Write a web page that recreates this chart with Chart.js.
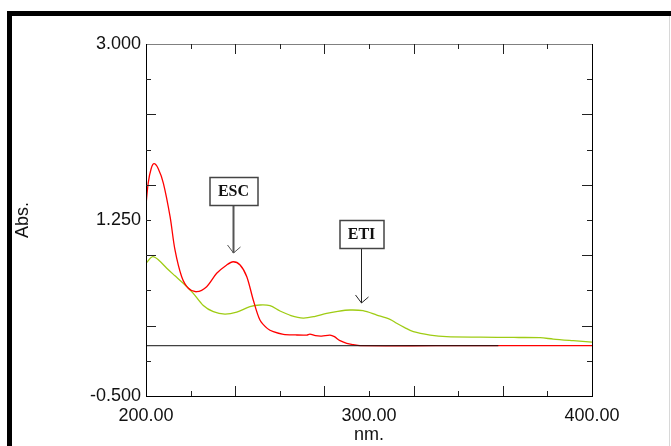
<!DOCTYPE html>
<html>
<head>
<meta charset="utf-8">
<title>Abs. spectrum</title>
<script src="https://cdn.jsdelivr.net/npm/chart.js"></script>
<style>
  html, body { margin: 0; padding: 0; background: #fff; }
  #wrap { width: 671px; height: 446px; position: relative; }
</style>
</head>
<body>
<div id="wrap"><canvas id="spectrum" width="671" height="446"></canvas></div>
<script>
// ESC (red) spectrum
const escWavelength = [200, 201, 202.3, 203.6, 205.5, 207.8, 210.8, 213.0, 216.0, 219.0, 222.7, 227.2, 231.7, 236.2, 239.1, 242.2, 245.2, 248.1, 251.1, 254.5, 257.1, 261.6, 267, 272.1, 273.5, 276, 278.8, 282.5, 284.5, 287.0, 290.0, 293, 296, 330, 400];
const escAbs = [1.40, 1.62, 1.76, 1.81, 1.76, 1.615, 1.283, 0.952, 0.686, 0.571, 0.537, 0.587, 0.720, 0.803, 0.835, 0.803, 0.686, 0.455, 0.256, 0.170, 0.139, 0.113, 0.107, 0.106, 0.116, 0.100, 0.096, 0.106, 0.090, 0.050, 0.024, 0.010, 0.0, 0.0, 0.0];

// ETI (green) spectrum
const etiWavelength = [200, 203.0, 206, 209.3, 213, 216.7, 221.2, 225.7, 230.2, 235.4, 240.7, 246.6, 251.1, 255.6, 260.1, 265, 270.5, 275.5, 281.0, 286, 291.5, 297.3, 303.5, 309.4, 312.4, 316, 319.9, 327.4, 334.8, 350, 365, 376.7, 382.6, 391.6, 400];
const etiAbs = [0.820, 0.885, 0.845, 0.770, 0.695, 0.621, 0.521, 0.400, 0.338, 0.315, 0.335, 0.388, 0.405, 0.398, 0.345, 0.300, 0.275, 0.290, 0.322, 0.342, 0.355, 0.348, 0.305, 0.262, 0.223, 0.180, 0.139, 0.106, 0.090, 0.085, 0.082, 0.080, 0.066, 0.050, 0.036];

// zero baseline
const baseWavelength = [200, 358];
const baseAbs = [0, 0];

// axis ticks and labels
const xTicks = [200, 220, 240, 260, 280, 300, 320, 340, 360, 380, 400];
const xLabels = [200, 300, 400];
const yTicks = [-0.5, -0.15, 0.2, 0.55, 0.9, 1.25, 1.6, 1.95, 2.3, 2.65, 3.0];
const yLabels = [-0.5, 1.25, 3.0];

// peak annotations
const peakNames = ['ESC', 'ETI'];
const peakWavelength = [238.8, 296.4];
const peakTipAbs = [0.922, 0.425];
const peakBoxTopAbs = [1.678, 1.25];

function toPoints(xs, ys) {
  return xs.map((x, i) => ({ x: x, y: ys[i] }));
}

const frameAndTicks = {
  id: 'frameAndTicks',
  afterDraw(chart) {
    const ctx = chart.ctx;
    const a = chart.chartArea;
    const xs = chart.scales.x, ys = chart.scales.y;
    ctx.save();
    // outer black border of the window
    ctx.fillStyle = '#000';
    ctx.fillRect(7, 11, 664, 5);
    ctx.fillRect(7, 11, 5, 435);
    ctx.fillStyle = '#d8d8d8';
    ctx.fillRect(669, 16, 1, 430);

    // plot frame
    ctx.lineWidth = 1;
    ctx.strokeStyle = '#808080';
    ctx.beginPath();
    ctx.moveTo(a.left, a.top + 0.5); ctx.lineTo(a.right, a.top + 0.5);
    ctx.stroke();
    ctx.strokeStyle = '#000';
    ctx.beginPath();
    ctx.moveTo(a.left + 0.5, a.top); ctx.lineTo(a.left + 0.5, a.bottom);
    ctx.moveTo(a.right + 0.5, a.top); ctx.lineTo(a.right + 0.5, a.bottom);
    ctx.moveTo(a.left, a.bottom + 0.5); ctx.lineTo(a.right + 1, a.bottom + 0.5);
    ctx.stroke();

    // inward tick marks
    ctx.strokeStyle = '#222';
    ctx.beginPath();
    xTicks.forEach((v, i) => {
      if (i === 0 || i === xTicks.length - 1) return;
      const len = i % 2 === 0 ? 10 : 5;
      const px = Math.round(xs.getPixelForValue(v)) + 0.5;
      ctx.moveTo(px, a.bottom); ctx.lineTo(px, a.bottom - len);
      ctx.moveTo(px, a.top); ctx.lineTo(px, a.top + len);
    });
    yTicks.forEach((v, i) => {
      if (i === 0 || i === yTicks.length - 1) return;
      const len = (yTicks.length - 1 - i) % 2 === 0 ? 10 : 5;
      const py = Math.round(ys.getPixelForValue(v)) + 0.5;
      ctx.moveTo(a.left, py); ctx.lineTo(a.left + len, py);
      ctx.moveTo(a.right, py); ctx.lineTo(a.right - len, py);
    });
    ctx.stroke();

    // peak labels with arrows
    ctx.font = 'bold 16px "Liberation Serif", serif';
    ctx.textAlign = 'center';
    ctx.textBaseline = 'middle';
    peakNames.forEach((name, i) => {
      const px = Math.round(xs.getPixelForValue(peakWavelength[i])) + 0.5;
      const tip = ys.getPixelForValue(peakTipAbs[i]);
      const top = ys.getPixelForValue(peakBoxTopAbs[i]);
      const w = Math.ceil(ctx.measureText(name).width) + 16;
      const h = 28;
      ctx.strokeStyle = i === 0 ? '#555' : '#222';
      ctx.lineWidth = i === 0 ? 2 : 1;
      ctx.beginPath();
      ctx.moveTo(px, top + h); ctx.lineTo(px, tip);
      ctx.stroke();
      ctx.lineWidth = 1;
      ctx.beginPath();
      ctx.moveTo(px - 6, tip - 8); ctx.lineTo(px, tip); ctx.lineTo(px + 7, tip - 6);
      ctx.stroke();
      ctx.fillStyle = '#fff';
      ctx.fillRect(px - w / 2, top, w, h);
      ctx.strokeStyle = '#444';
      ctx.lineWidth = 1.5;
      ctx.strokeRect(Math.round(px - w / 2), Math.round(top) + 0.5, w, h);
      ctx.fillStyle = '#111';
      ctx.fillText(name, px, top + h / 2 + 1);
    });
    ctx.restore();
  }
};

const labelFont = { family: '"Liberation Sans", Arial, sans-serif', size: 18 };

new Chart(document.getElementById('spectrum'), {
  type: 'line',
  data: {
    datasets: [
      {
        label: 'baseline',
        data: toPoints(baseWavelength, baseAbs),
        borderColor: '#111',
        borderWidth: 1,
        pointRadius: 0,
        tension: 0
      },
      {
        label: 'ESC',
        data: toPoints(escWavelength, escAbs),
        borderColor: '#ff0000',
        borderWidth: 1.3,
        pointRadius: 0,
        tension: 0.3
      },
      {
        label: 'ETI',
        data: toPoints(etiWavelength, etiAbs),
        borderColor: '#9fcc14',
        borderWidth: 1.3,
        pointRadius: 0,
        tension: 0.3
      }
    ]
  },
  options: {
    responsive: false,
    animation: false,
    layout: { padding: { top: 44, right: 79, bottom: 0, left: 0 } },
    plugins: { legend: { display: false }, tooltip: { enabled: false } },
    scales: {
      x: {
        type: 'linear',
        min: 200,
        max: 400,
        afterBuildTicks: (scale) => { scale.ticks = xTicks.map(v => ({ value: v })); },
        afterFit: (scale) => { scale.height = 50; },
        grid: { display: false, drawTicks: false },
        border: { display: false },
        ticks: {
          autoSkip: false,
          maxRotation: 0,
          padding: 9,
          color: '#111',
          font: labelFont,
          callback: (v) => xLabels.includes(v) ? v.toFixed(2) : ''
        },
        title: { display: true, text: 'nm.', color: '#111', font: labelFont, padding: { top: 0, bottom: 0 } }
      },
      y: {
        min: -0.5,
        max: 3.0,
        afterBuildTicks: (scale) => { scale.ticks = yTicks.map(v => ({ value: v })); },
        afterFit: (scale) => { scale.width = 146; },
        grid: { display: false, drawTicks: false },
        border: { display: false },
        ticks: {
          autoSkip: false,
          padding: 5,
          color: '#111',
          font: labelFont,
          callback: (v) => yLabels.some(l => Math.abs(l - v) < 1e-6) ? v.toFixed(3) : ''
        },
        title: { display: true, text: 'Abs.', color: '#111', font: labelFont, padding: { top: 12, bottom: 0 } }
      }
    }
  },
  plugins: [frameAndTicks]
});
</script>
</body>
</html>
